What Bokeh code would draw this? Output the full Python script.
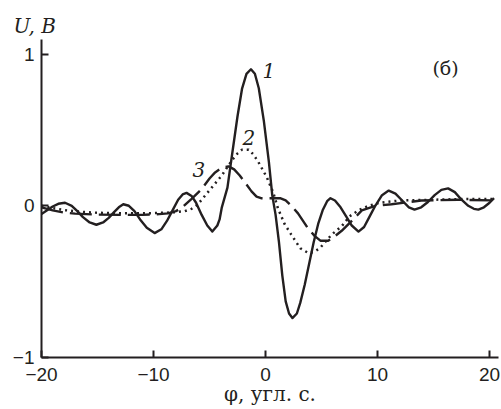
from bokeh.plotting import figure
from bokeh.models import Label, FixedTicker, Range1d
from bokeh.embed import file_html
from bokeh.resources import INLINE

# ---- data ----
x1 = [-20.0, -19.5, -19.0, -18.5, -17.9, -17.3, -16.8, -16.3, -15.7, -15.1, -14.5, -14.0, -13.5, -13.1,
      -12.7, -12.2, -11.7, -11.2, -10.6, -9.9, -9.3, -8.8, -8.3, -7.8, -7.4, -7.05, -6.6, -6.2, -5.7,
      -5.2, -4.75, -4.3, -4.1, -3.9, -3.4, -3.0, -2.5, -2.1, -1.7, -1.3, -0.95, -0.6, -0.15, 0.3, 0.6,
      0.9, 1.2, 1.5, 1.8, 2.1, 2.4, 2.8, 3.1, 3.5, 3.9, 4.3, 4.7, 5.1, 5.5, 5.8, 6.2, 6.7, 7.2, 7.7,
      8.3, 8.8, 9.3, 9.8, 10.4, 11.0, 11.6, 12.2, 12.8, 13.3, 13.9, 14.5, 15.1, 15.7, 16.3, 16.9, 17.5,
      18.1, 18.6, 19.0, 19.5, 20.0, 20.4]
u1 = [-0.055, -0.03, -0.005, 0.013, 0.02, 0.0, -0.035, -0.075, -0.11, -0.125, -0.11, -0.08, -0.04, -0.01,
      0.01, 0.0, -0.035, -0.09, -0.145, -0.18, -0.155, -0.1, -0.03, 0.04, 0.075, 0.085, 0.065, 0.02, -0.06,
      -0.13, -0.17, -0.13, -0.09, -0.01, 0.12, 0.33, 0.59, 0.77, 0.87, 0.9, 0.87, 0.775, 0.56, 0.29, 0.07,
      -0.06, -0.24, -0.46, -0.63, -0.71, -0.74, -0.71, -0.64, -0.52, -0.38, -0.24, -0.12, -0.03, 0.03, 0.05,
      0.035, -0.01, -0.07, -0.13, -0.17, -0.14, -0.07, 0.0, 0.07, 0.1, 0.08, 0.035, -0.01, -0.025, -0.01,
      0.025, 0.07, 0.105, 0.115, 0.09, 0.04, 0.0, -0.02, -0.025, -0.01, 0.02, 0.05]

x2 = [-20.0, -19.0, -18.0, -17.0, -16.0, -15.0, -13.0, -11.0, -9.0, -8.0, -7.2, -6.6, -6.1, -5.7, -4.8,
      -3.9, -3.0, -2.5, -2.1, -1.5, -1.1, -0.65, 0.1, 0.7, 1.1, 1.7, 2.3, 3.1, 3.8, 4.3, 4.85, 5.9, 6.8,
      7.5, 8.3, 9.2, 10.2, 12.0, 15.0, 18.0, 20.4]
u2 = [0.0, -0.015, -0.028, -0.036, -0.042, -0.046, -0.05, -0.05, -0.046, -0.042, -0.035, -0.02, 0.005, 0.04,
      0.12, 0.2, 0.3, 0.345, 0.37, 0.37, 0.34, 0.29, 0.19, 0.085, -0.015, -0.12, -0.19, -0.28, -0.31, -0.305,
      -0.28, -0.19, -0.135, -0.07, -0.03, 0.0, 0.02, 0.035, 0.04, 0.045, 0.045]

x3 = [-20.0, -19.0, -18.0, -17.0, -15.0, -13.0, -11.0, -9.5, -8.7, -8.0, -7.5, -6.6, -5.7, -5.0, -4.5,
      -3.9, -3.3, -2.8, -2.3, -1.8, -1.25, -0.8, -0.4, 0.7, 1.3, 1.8, 2.3, 2.9, 3.8, 4.4, 4.9, 5.6, 6.2,
      6.8, 7.7, 8.6, 9.8, 11.25, 13.9, 17.2, 20.4]
u3 = [-0.01, -0.03, -0.045, -0.052, -0.058, -0.06, -0.06, -0.055, -0.05, -0.035, -0.015, 0.045, 0.11, 0.18,
      0.22, 0.25, 0.26, 0.24, 0.2, 0.15, 0.095, 0.06, 0.05, 0.05, 0.05, 0.035, 0.0, -0.05, -0.15, -0.2,
      -0.23, -0.23, -0.2, -0.165, -0.10, -0.03, 0.0, 0.01, 0.035, 0.04, 0.035]

x_ticks = [-20, -10, 0, 10, 20]
x_tick_labels = ["\u221220", "\u221210", "0", "10", "20"]
y_ticks = [-1, 0, 1]
y_tick_labels = ["\u22121", "0", "1"]

INK = "#231f20"
SERIF = "DejaVu Serif"
SANS = "Liberation Sans"

p = figure(width=501, height=409, output_backend="svg", toolbar_location=None,
           x_range=Range1d(-20, 20.8), y_range=Range1d(-1, 1.096),
           min_border_left=41, min_border_right=3, min_border_top=39, min_border_bottom=52)
p.xgrid.visible = False
p.ygrid.visible = False
p.outline_line_color = None
p.background_fill_color = "white"

for ax, ticks, labels in ((p.xaxis, x_ticks, x_tick_labels), (p.yaxis, y_ticks, y_tick_labels)):
    ax.ticker = FixedTicker(ticks=ticks)
    ax.major_label_overrides = {t: l for t, l in zip(ticks, labels)}
    ax.minor_tick_line_color = None
    ax.major_tick_in = 7
    ax.major_tick_out = 0
    ax.major_tick_line_width = 2
    ax.major_tick_line_color = INK
    ax.axis_line_width = 2
    ax.axis_line_color = INK
    ax.major_label_text_font = SANS
    ax.major_label_text_font_size = "19px"
    ax.major_label_text_color = INK
p.xaxis.major_label_standoff = 10
p.yaxis.major_label_standoff = 7

p.xaxis.axis_label = "\u03c6, \u0443\u0433\u043b. \u0441."
p.xaxis.axis_label_text_font = SERIF
p.xaxis.axis_label_text_font_size = "20px"
p.xaxis.axis_label_text_font_style = "normal"
p.xaxis.axis_label_text_color = INK
p.xaxis.axis_label_standoff = -2

p.title.text = "U, \u0412"
p.title.text_font = SERIF
p.title.text_font_size = "20px"
p.title.text_font_style = "italic"
p.title.text_color = INK
p.title.align = "left"
p.title.offset = -28
p.title.standoff = 4

p.line(x1, u1, line_color=INK, line_width=2.4, line_join="round")
p.line(x2, u2, line_color=INK, line_width=2.5, line_dash="2 4")
p.line(x3, u3, line_color=INK, line_width=2.4, line_dash="22 7")

def lab(x, y, t, size, style="normal"):
    p.add_layout(Label(x=x, y=y, text=t, text_font=SERIF, text_font_size=size, text_font_style=style,
                       text_align="center", text_baseline="middle", text_color=INK))

lab(0.29, 0.89, "1", "20px", "italic")
lab(-1.49, 0.45, "2", "20px", "italic")
lab(-5.96, 0.24, "3", "20px", "italic")
lab(16.07, 0.91, "(\u0431)", "19px")

open("out.html", "w").write(file_html(p, INLINE))
